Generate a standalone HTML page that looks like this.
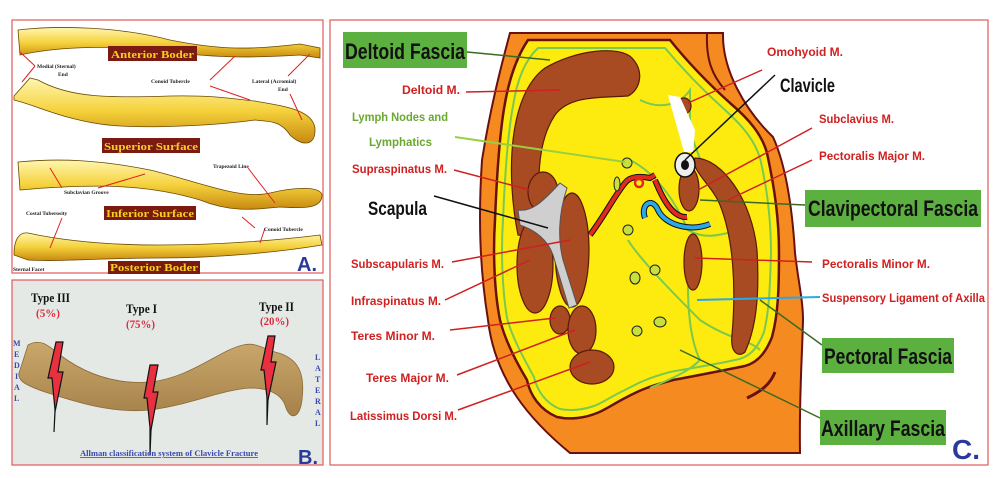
<!DOCTYPE html>
<html><head><meta charset="utf-8"><style>
body{margin:0;width:999px;height:478px;background:#fff;overflow:hidden}
svg{display:block}
.n{font-family:"Liberation Sans",sans-serif;font-weight:bold}
.s{font-family:"Liberation Serif",serif;font-weight:bold}
</style></head><body>
<svg width="999" height="478" viewBox="0 0 999 478" xmlns="http://www.w3.org/2000/svg">
<defs>
<linearGradient id="bone" x1="0" y1="0" x2="0" y2="1">
<stop offset="0" stop-color="#fff6b0"/><stop offset="0.5" stop-color="#f5d23c"/><stop offset="1" stop-color="#c88a10"/></linearGradient>
<linearGradient id="tan" x1="0" y1="0" x2="0" y2="1">
<stop offset="0" stop-color="#c9a76c"/><stop offset="1" stop-color="#a6824a"/></linearGradient>
</defs>
<!-- Panel A -->
<rect x="12" y="20" width="311" height="253" fill="#fff" stroke="#e05a5a" stroke-width="1.2"/>
<path d="M18,30 C60,25 120,27 170,40 C220,50 250,50 300,44 L320,48 L320,58 L300,55 C250,58 220,58 170,52 C120,45 60,46 20,55 Z" fill="url(#bone)" stroke="#6a4a00" stroke-width="0.8"/>
<path d="M14,96 L30,78 L38,80 C70,98 110,98 170,96 C220,95 240,100 255,101 C275,105 315,108 315,130 C315,148 300,145 290,135 C280,120 270,122 255,120 C220,125 140,130 100,124 C60,118 35,105 14,100 Z" fill="url(#bone)" stroke="#6a4a00" stroke-width="0.8"/>
<path d="M18,162 C60,158 100,160 150,170 C200,182 240,200 270,193 C290,188 320,185 322,195 C322,210 300,208 280,207 C250,210 230,212 200,200 C150,185 100,183 20,190 Z" fill="url(#bone)" stroke="#6a4a00" stroke-width="0.8"/>
<path d="M14,255 C14,238 20,232 28,233 C60,240 100,245 160,245 C220,245 280,240 320,235 L322,245 C280,252 220,258 160,258 C100,258 60,262 28,260 Z" fill="url(#bone)" stroke="#6a4a00" stroke-width="0.8"/>
<g stroke="#e02020" stroke-width="1" fill="none">
<path d="M20,52 L35,66 M35,66 L22,82 M210,80 L235,56 M210,86 L250,100 M288,76 L310,54 M290,94 L302,120 M62,188 L50,168 M98,188 L145,174 M248,168 L275,203 M62,218 L50,248 M255,228 L242,217 M265,228 L260,243"/>
</g>
<g class="s" font-size="5.5" fill="#222">
<text x="37" y="68">Medial (Sternal)</text><text x="58" y="76">End</text>
<text x="151" y="83">Conoid Tubercle</text>
<text x="252" y="83">Lateral (Acromial)</text><text x="278" y="91">End</text>
<text x="213" y="168">Trapezoid Line</text>
<text x="64" y="194">Subclavian Groove</text>
<text x="26" y="215">Costal Tuberosity</text>
<text x="264" y="231">Conoid Tubercle</text>
<text x="13" y="271">Sternal Facet</text>
</g>
<g class="s" font-size="10" fill="#f5d020">
<rect x="108" y="46" width="89" height="15" fill="#7a1a10"/><text x="111" y="58" textLength="83" lengthAdjust="spacingAndGlyphs">Anterior Boder</text>
<rect x="102" y="138" width="98" height="15" fill="#7a1a10"/><text x="104" y="150" textLength="94" lengthAdjust="spacingAndGlyphs">Superior Surface</text>
<rect x="104" y="206" width="92" height="14" fill="#7a1a10"/><text x="106" y="217" textLength="88" lengthAdjust="spacingAndGlyphs">Inferior Surface</text>
<rect x="108" y="261" width="92" height="13" fill="#7a1a10"/><text x="110" y="271" textLength="88" lengthAdjust="spacingAndGlyphs">Posterior Boder</text>
</g>
<text x="297" y="271" font-family="Liberation Sans,sans-serif" font-weight="bold" font-size="20" fill="#2a3a9a">A.</text>
<!-- Panel B -->
<rect x="12" y="280" width="311" height="185" fill="#e5e9e6" stroke="#e05a5a" stroke-width="1.2"/>
<path d="M28,345 C40,338 48,345 60,355 C80,370 110,385 150,382 C190,378 220,350 243,345 C255,342 262,348 275,352 C300,358 305,375 302,400 C300,418 290,422 285,405 C280,392 265,388 250,388 C220,390 190,405 150,410 C110,414 70,400 45,392 C25,385 15,380 20,370 Z" fill="url(#tan)" stroke="#8a6a38" stroke-width="0.8"/>
<g fill="#e83040" stroke="#111" stroke-width="1.2">
<path d="M56,342 L63,342 L58,372 L63,372 L55,412 L54,432 L55,410 L52,378 L48,378 Z"/>
<path d="M150,365 L158,365 L153,392 L158,392 L151,430 L150,455 L150,428 L147,398 L144,398 Z"/>
<path d="M268,336 L275,336 L271,362 L276,362 L268,400 L267,425 L267,398 L264,370 L261,370 Z"/>
</g>
<g class="s" fill="#111" font-size="13"><text x="31" y="302" textLength="39" lengthAdjust="spacingAndGlyphs">Type III</text><text x="126" y="313" textLength="31" lengthAdjust="spacingAndGlyphs">Type I</text><text x="259" y="311" textLength="35" lengthAdjust="spacingAndGlyphs">Type II</text></g>
<g class="s" fill="#d83040" font-size="12"><text x="36" y="317" textLength="24" lengthAdjust="spacingAndGlyphs">(5%)</text><text x="126" y="328" textLength="29" lengthAdjust="spacingAndGlyphs">(75%)</text><text x="260" y="325" textLength="29" lengthAdjust="spacingAndGlyphs">(20%)</text></g>
<g class="s" fill="#3a48b0" font-size="8"><text x="13" y="346">M</text><text x="14" y="357">E</text><text x="14" y="368">D</text><text x="15" y="379">I</text><text x="14" y="390">A</text><text x="14" y="401">L</text>
<text x="315" y="360">L</text><text x="315" y="371">A</text><text x="315" y="382">T</text><text x="315" y="393">E</text><text x="315" y="404">R</text><text x="315" y="415">A</text><text x="315" y="426">L</text></g>
<text x="80" y="456" class="s" font-size="8" fill="#3a48b0" text-decoration="underline" textLength="178" lengthAdjust="spacingAndGlyphs">Allman classification system of Clavicle Fracture</text>
<text x="298" y="464" font-family="Liberation Sans,sans-serif" font-weight="bold" font-size="20" fill="#2a3a9a">B.</text>
<!-- Panel C -->
<rect x="330" y="20" width="658" height="445" fill="#fff" stroke="#e05a5a" stroke-width="1.2"/>
<path d="M510,33 L723,33 C722,70 745,110 773,137 C788,170 793,220 795,253 C798,280 803,300 803,320 C802,360 799,400 800,453 L570,453 C530,420 495,380 488,320 C480,270 478,220 482,160 C490,110 500,70 510,33 Z" fill="#f58a20" stroke="#6a1010" stroke-width="2"/>
<path d="M707,33 C706,60 712,75 725,90" fill="none" stroke="#6a1010" stroke-width="2"/>
<path d="M747,398 C760,392 770,385 775,372" fill="none" stroke="#6a1010" stroke-width="3"/>
<path d="M528,40 L670,40 C690,65 710,85 730,103 C750,120 762,135 767,153 C775,190 779,220 779,253 C779,290 778,315 772,337 C765,355 755,365 740,367 C715,372 695,376 673,380 C650,386 640,390 627,397 C615,403 605,410 597,413 C585,418 570,420 557,417 C540,410 530,395 527,380 C515,360 505,340 500,320 C494,290 493,250 495,220 C497,170 500,130 505,103 C510,75 518,55 528,40 Z" fill="#fdeb10" stroke="#6a1010" stroke-width="2.5"/>
<path d="M538,48 L665,48 C685,72 705,92 725,110 C745,128 755,142 760,158 C768,192 771,222 771,253 C770,288 769,312 764,332 C757,350 748,358 735,360 C712,365 692,368 670,372 C648,378 638,383 625,390 C612,396 602,403 594,406 C582,410 570,411 560,409 C545,403 537,390 534,377 C523,357 512,337 507,318 C502,288 501,250 503,220 C505,172 508,132 513,106 C517,80 525,60 538,48 Z" fill="none" stroke="#7ac850" stroke-width="2"/>
<g fill="none" stroke="#7ac850" stroke-width="2">
<path d="M640,100 C660,110 680,105 690,90 L690,120 C690,140 700,155 700,160"/>
<path d="M630,160 C650,170 670,190 688,230 C705,240 720,235 740,230"/>
<path d="M628,240 C640,260 680,300 700,320 C730,340 750,340 760,350"/>
<path d="M690,250 C685,300 690,340 700,360 C690,370 680,375 650,388"/>
</g>
<g fill="#a84a22" stroke="#5a1a08" stroke-width="1.2">
<path d="M518,235 C506,175 508,95 545,68 C575,50 620,45 632,58 C645,72 640,90 628,96 C600,98 570,95 555,115 C535,145 535,200 548,240 Z"/>
<path d="M695,158 C722,158 752,200 757,250 C760,300 755,330 745,352 C738,358 730,352 732,335 C736,290 734,240 720,205 C712,185 690,170 695,158 Z"/>
<ellipse cx="543" cy="192" rx="15" ry="20"/>
<ellipse cx="535" cy="265" rx="18" ry="48"/>
<ellipse cx="572" cy="250" rx="17" ry="57"/>
<ellipse cx="560" cy="320" rx="10" ry="14"/>
<ellipse cx="582" cy="330" rx="14" ry="24"/>
<ellipse cx="592" cy="367" rx="22" ry="17"/>
<ellipse cx="684" cy="106" rx="7" ry="8"/>
<ellipse cx="689" cy="189" rx="10" ry="22"/>
<ellipse cx="693" cy="262" rx="9" ry="28"/>
</g>
<path d="M668,95 L680,97 L695,130 L693,152 L684,152 Z" fill="#fff"/>
<path d="M518,210 C530,212 540,205 560,183 L567,188 C558,215 558,240 563,260 L577,305 L569,308 L553,255 C548,240 535,230 520,225 Z" fill="#cfcfcf" stroke="#555" stroke-width="1"/>
<ellipse cx="685" cy="165" rx="10" ry="12" fill="#eee" stroke="#111" stroke-width="1.5"/>
<ellipse cx="685" cy="165" rx="4" ry="5" fill="#111"/>
<path d="M590,235 C605,215 615,195 625,183 C630,176 640,176 650,178 L655,175" fill="none" stroke="#111" stroke-width="6"/>
<path d="M590,235 C605,215 615,195 625,183 C630,176 640,176 650,178 L655,175" fill="none" stroke="#e02a20" stroke-width="4"/>
<circle cx="639" cy="183" r="4" fill="none" stroke="#e02a20" stroke-width="2.5"/>
<path d="M655,180 C665,205 675,218 687,217" fill="none" stroke="#111" stroke-width="6"/>
<path d="M655,180 C665,205 675,218 687,217" fill="none" stroke="#e02a20" stroke-width="4"/>
<path d="M645,218 C640,205 652,196 658,210 C665,225 690,232 710,224" fill="none" stroke="#111" stroke-width="6"/>
<path d="M645,218 C640,205 652,196 658,210 C665,225 690,232 710,224" fill="none" stroke="#2aa8e8" stroke-width="4"/>
<g fill="#c8e03a" stroke="#222" stroke-width="1">
<ellipse cx="627" cy="163" rx="5" ry="5"/><ellipse cx="617" cy="184" rx="3" ry="7"/>
<ellipse cx="628" cy="230" rx="5" ry="5"/><ellipse cx="655" cy="270" rx="5" ry="5"/>
<ellipse cx="635" cy="278" rx="5" ry="6"/><ellipse cx="660" cy="322" rx="6" ry="5"/><ellipse cx="637" cy="331" rx="5" ry="5"/>
</g>
<g stroke="#d02020" stroke-width="1.5" fill="none">
<path d="M466,92 L560,90 M454,170 L530,190 M452,262 L570,240 M445,300 L530,260 M450,330 L555,318 M457,375 L575,330 M458,410 L590,362 M762,70 L688,103 M812,128 L698,190 M812,160 L728,200 M812,262 L695,258"/>
</g>
<path d="M455,137 L625,162" stroke="#9ad040" stroke-width="2" fill="none"/>
<path d="M775,75 L685,160" stroke="#111" stroke-width="1.5" fill="none"/>
<path d="M434,196 L548,228" stroke="#111" stroke-width="1.5" fill="none"/>
<path d="M820,297 L697,300" stroke="#2aa8e8" stroke-width="2" fill="none"/>
<g stroke="#3a6a20" stroke-width="1.5" fill="none">
<path d="M467,52 L550,60"/><path d="M805,205 L700,200"/><path d="M822,345 L760,300"/><path d="M820,418 L680,350"/>
</g>
<g class="n">
<rect x="343" y="32" width="124" height="36" fill="#5cb040"/><text x="345" y="59" font-size="22" fill="#111" textLength="120" lengthAdjust="spacingAndGlyphs">Deltoid Fascia</text>
<rect x="805" y="190" width="176" height="37" fill="#5cb040"/><text x="808" y="216" font-size="22" fill="#111" textLength="170" lengthAdjust="spacingAndGlyphs">Clavipectoral Fascia</text>
<rect x="822" y="338" width="132" height="35" fill="#5cb040"/><text x="824" y="364" font-size="22" fill="#111" textLength="128" lengthAdjust="spacingAndGlyphs">Pectoral Fascia</text>
<rect x="820" y="410" width="126" height="35" fill="#5cb040"/><text x="821" y="436" font-size="22" fill="#111" textLength="124" lengthAdjust="spacingAndGlyphs">Axillary Fascia</text>
<g font-size="12">
<text x="402" y="94" fill="#d02020" textLength="58" lengthAdjust="spacingAndGlyphs">Deltoid M.</text>
<text x="352" y="121" fill="#6aa830" textLength="96" lengthAdjust="spacingAndGlyphs">Lymph Nodes and</text>
<text x="369" y="146" fill="#6aa830" textLength="63" lengthAdjust="spacingAndGlyphs">Lymphatics</text>
<text x="352" y="173" fill="#d02020" textLength="95" lengthAdjust="spacingAndGlyphs">Supraspinatus M.</text>
<text x="351" y="268" fill="#d02020" textLength="93" lengthAdjust="spacingAndGlyphs">Subscapularis M.</text>
<text x="351" y="305" fill="#d02020" textLength="90" lengthAdjust="spacingAndGlyphs">Infraspinatus M.</text>
<text x="351" y="340" fill="#d02020" textLength="84" lengthAdjust="spacingAndGlyphs">Teres Minor M.</text>
<text x="366" y="382" fill="#d02020" textLength="83" lengthAdjust="spacingAndGlyphs">Teres Major M.</text>
<text x="350" y="420" fill="#d02020" textLength="107" lengthAdjust="spacingAndGlyphs">Latissimus Dorsi M.</text>
<text x="767" y="56" fill="#d02020" textLength="76" lengthAdjust="spacingAndGlyphs">Omohyoid M.</text>
<text x="819" y="123" fill="#d02020" textLength="75" lengthAdjust="spacingAndGlyphs">Subclavius M.</text>
<text x="819" y="160" fill="#d02020" textLength="106" lengthAdjust="spacingAndGlyphs">Pectoralis Major M.</text>
<text x="822" y="268" fill="#d02020" textLength="108" lengthAdjust="spacingAndGlyphs">Pectoralis Minor M.</text>
<text x="822" y="302" fill="#d02020" textLength="163" lengthAdjust="spacingAndGlyphs">Suspensory Ligament of Axilla</text>
</g>
<text x="368" y="215" font-size="19" fill="#111" textLength="59" lengthAdjust="spacingAndGlyphs">Scapula</text>
<text x="780" y="92" font-size="19" fill="#111" textLength="55" lengthAdjust="spacingAndGlyphs">Clavicle</text>
</g>
<text x="952" y="459" font-family="Liberation Sans,sans-serif" font-weight="bold" font-size="28" fill="#2a3a9a">C.</text>
</svg>
</body></html>
